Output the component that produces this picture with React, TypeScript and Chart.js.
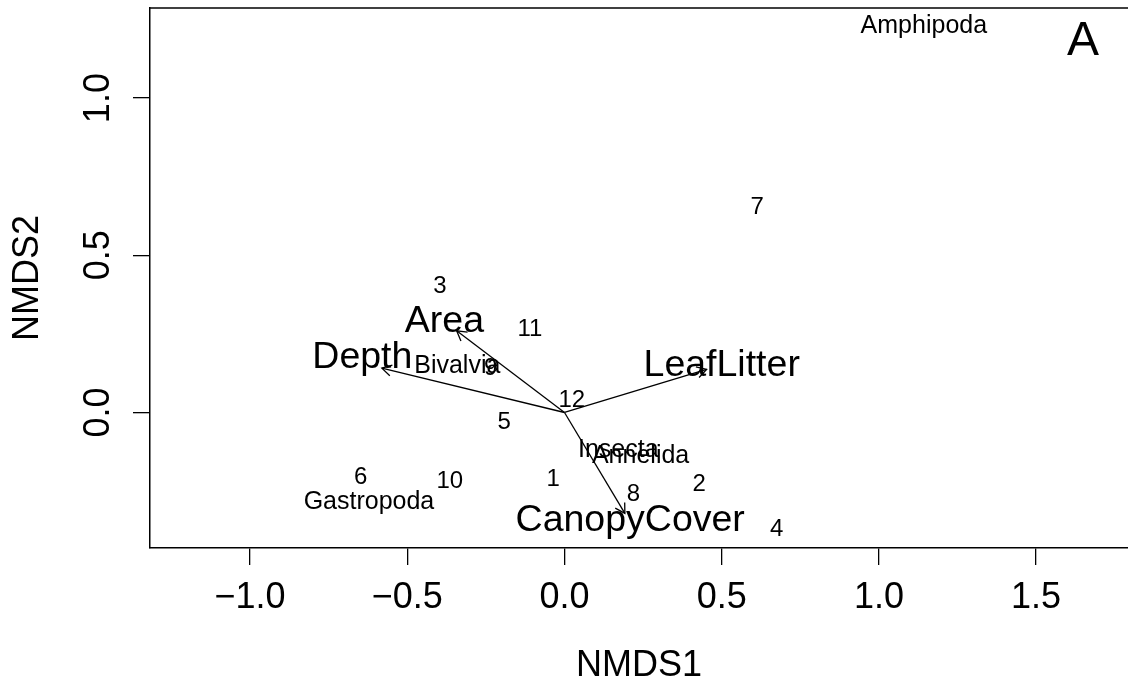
import React, { useEffect, useRef } from "react";
import { Chart, registerables } from "chart.js";

Chart.register(...registerables);

// Site scores (labels drawn as text)
const siteLabels = ["1", "2", "3", "4", "5", "6", "7", "8", "9", "10", "11", "12"];
const siteX = [-0.036, 0.428, -0.396, 0.675, -0.192, -0.648, 0.613, 0.219, -0.235, -0.365, -0.11, 0.023];
const siteY = [-0.212, -0.23, 0.402, -0.371, -0.033, -0.206, 0.653, -0.262, 0.141, -0.219, 0.265, 0.04];

// Species scores
const speciesLabels = ["Amphipoda", "Bivalvia", "Gastropoda", "Insecta", "Annelida"];
const speciesX = [1.143, -0.341, -0.622, 0.171, 0.242];
const speciesY = [1.228, 0.149, -0.285, -0.119, -0.138];

// Environmental vectors
const envLabels = ["Area", "Depth", "LeafLitter", "CanopyCover"];
const envX = [-0.343, -0.581, 0.452, 0.192];
const envY = [0.26, 0.141, 0.137, -0.321];
const envLabelX = [-0.382, -0.643, 0.5, 0.209];
const envLabelY = [0.289, 0.176, 0.149, -0.344];

// Axes
const xTicks = [-1.0, -0.5, 0.0, 0.5, 1.0, 1.5];
const yTicks = [0.0, 0.5, 1.0];
const xMin = -1.3184;
const xMax = 1.7923;
const yMin = -0.431;
const yMax = 1.2866;
const xTitle = "NMDS1";
const yTitle = "NMDS2";
const panelLabel = "A";

const FONT = "'Liberation Sans', Arial, Helvetica, sans-serif";

const fmt = (v: number) => (v < 0 ? "\u2212" + Math.abs(v).toFixed(1) : v.toFixed(1));

const textPlugin = {
  id: "ordiText",
  afterDatasetsDraw(chart: any) {
    const ctx = chart.ctx;
    const xs = chart.scales.x;
    const ys = chart.scales.y;
    const area = chart.chartArea;
    ctx.save();
    ctx.fillStyle = "#000";
    ctx.strokeStyle = "#000";
    ctx.textAlign = "center";
    ctx.textBaseline = "middle";

    // top border
    ctx.lineWidth = 1.5;
    ctx.beginPath();
    ctx.moveTo(area.left, area.top);
    ctx.lineTo(area.right, area.top);
    ctx.stroke();

    // arrowheads
    ctx.lineWidth = 1.3;
    for (let i = 0; i < envLabels.length; i++) {
      const x0 = xs.getPixelForValue(0);
      const y0 = ys.getPixelForValue(0);
      const x1 = xs.getPixelForValue(envX[i]);
      const y1 = ys.getPixelForValue(envY[i]);
      const ang = Math.atan2(y1 - y0, x1 - x0);
      const L = 11;
      const a = Math.PI / 6;
      ctx.beginPath();
      ctx.moveTo(x1 - L * Math.cos(ang - a), y1 - L * Math.sin(ang - a));
      ctx.lineTo(x1, y1);
      ctx.lineTo(x1 - L * Math.cos(ang + a), y1 - L * Math.sin(ang + a));
      ctx.stroke();
    }

    // site labels
    ctx.font = `24px ${FONT}`;
    for (let i = 0; i < siteLabels.length; i++) {
      ctx.fillText(siteLabels[i], xs.getPixelForValue(siteX[i]), ys.getPixelForValue(siteY[i]));
    }
    // species labels
    ctx.font = `25px ${FONT}`;
    for (let i = 0; i < speciesLabels.length; i++) {
      ctx.fillText(speciesLabels[i], xs.getPixelForValue(speciesX[i]), ys.getPixelForValue(speciesY[i]));
    }
    // env labels
    ctx.font = `37.5px ${FONT}`;
    for (let i = 0; i < envLabels.length; i++) {
      ctx.fillText(envLabels[i], xs.getPixelForValue(envLabelX[i]), ys.getPixelForValue(envLabelY[i]));
    }
    // panel label
    ctx.font = `48px ${FONT}`;
    ctx.fillText(panelLabel, area.right - 45, area.top + 34);

    // y tick labels (rotated, R style)
    ctx.font = `36px ${FONT}`;
    for (const v of yTicks) {
      const py = ys.getPixelForValue(v);
      ctx.save();
      ctx.translate(97, py);
      ctx.rotate(-Math.PI / 2);
      ctx.fillText(fmt(v), 0, 2);
      ctx.restore();
    }
    ctx.restore();
  },
};

export default function App() {
  const ref = useRef<HTMLCanvasElement>(null);
  useEffect(() => {
    if (!ref.current) return;
    const arrowSets = envLabels.map((lab, i) => ({
      label: lab,
      data: [
        { x: 0, y: 0 },
        { x: envX[i], y: envY[i] },
      ],
      showLine: true,
      borderColor: "#000",
      borderWidth: 1.3,
      pointRadius: 0,
      fill: false,
    }));
    const chart = new Chart(ref.current, {
      type: "scatter",
      data: {
        datasets: [
          {
            label: "sites",
            data: siteX.map((x, i) => ({ x, y: siteY[i] })),
            pointRadius: 0,
          },
          {
            label: "species",
            data: speciesX.map((x, i) => ({ x, y: speciesY[i] })),
            pointRadius: 0,
          },
          ...arrowSets,
        ],
      },
      options: {
        animation: false,
        responsive: false,
        maintainAspectRatio: false,
        layout: { padding: { left: 0, top: 8, right: 0, bottom: 0 } },
        plugins: { legend: { display: false }, tooltip: { enabled: false } },
        scales: {
          x: {
            type: "linear",
            min: xMin,
            max: xMax,
            afterBuildTicks: (s: any) => {
              s.ticks = xTicks.map((v) => ({ value: v }));
            },
            afterFit: (s: any) => {
              s.height = 137;
            },
            grid: {
              drawOnChartArea: false,
              drawTicks: true,
              tickLength: 17,
              color: "#000",
              lineWidth: 1.3,
            },
            border: { display: true, color: "#000", width: 1.5 },
            ticks: {
              color: "#000",
              font: { family: FONT, size: 36, lineHeight: 1 },
              padding: 15,
              maxRotation: 0,
              minRotation: 0,
              autoSkip: false,
              callback: (v: any) => fmt(Number(v)),
            },
            title: {
              display: true,
              text: xTitle,
              color: "#000",
              font: { family: FONT, size: 36, lineHeight: 1 },
              padding: { top: 0, bottom: 1 },
            },
          },
          y: {
            type: "linear",
            min: yMin,
            max: yMax,
            afterBuildTicks: (s: any) => {
              s.ticks = yTicks.map((v) => ({ value: v }));
            },
            afterFit: (s: any) => {
              s.width = 150;
            },
            grid: {
              drawOnChartArea: false,
              drawTicks: true,
              tickLength: 17,
              color: "#000",
              lineWidth: 1.3,
            },
            border: { display: true, color: "#000", width: 1.5 },
            ticks: { display: false },
            title: {
              display: true,
              text: yTitle,
              color: "#000",
              font: { family: FONT, size: 36, lineHeight: 1 },
              padding: { top: 10, bottom: 0 },
            },
          },
        },
      },
      plugins: [textPlugin],
    });
    return () => chart.destroy();
  }, []);
  return (
    <div style={{ position: "absolute", left: 0, top: 0, width: 1128, height: 685, background: "#fff" }}>
      <canvas ref={ref} width={1128} height={685} style={{ display: "block" }} />
    </div>
  );
}
